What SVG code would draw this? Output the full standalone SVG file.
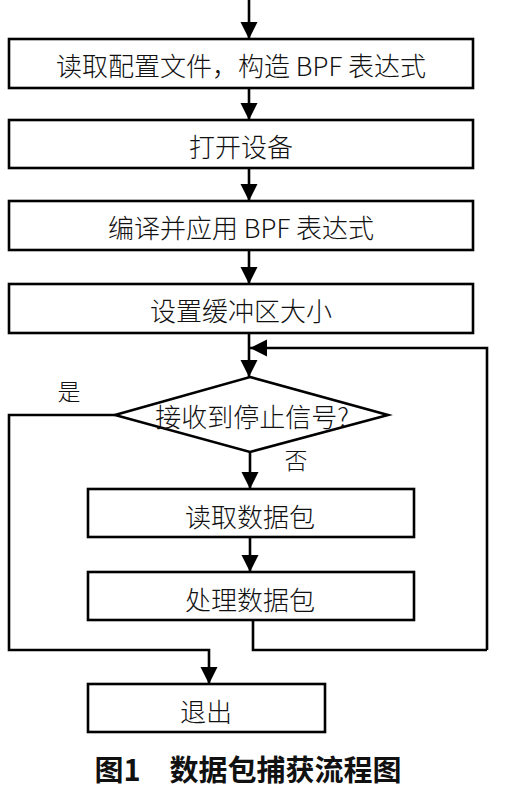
<svg xmlns="http://www.w3.org/2000/svg" width="506" height="800" viewBox="0 0 506 800">
<defs>
<marker id="ah" markerUnits="userSpaceOnUse" markerWidth="18" markerHeight="18" refX="17" refY="8.5" orient="auto">
<path d="M0,0 L17,8.5 L0,17 Z" fill="#000"/>
</marker>
<style>
.box{fill:#fff;stroke:#000;stroke-width:2.6}
.ln{fill:none;stroke:#000;stroke-width:2.6}
.t{font-family:"Noto Sans CJK SC","Liberation Sans",sans-serif;font-size:26px;font-weight:300;fill:#111;text-anchor:middle;dominant-baseline:central}
.l{font-family:"Noto Sans CJK SC",sans-serif;font-size:23px;font-weight:300;fill:#111;text-anchor:middle;dominant-baseline:central}
.cap{font-family:"Noto Sans CJK SC",sans-serif;font-size:29px;font-weight:bold;fill:#111;text-anchor:middle;dominant-baseline:central}
</style>
</defs>
<rect width="506" height="800" fill="#fff"/>
<g id="connectors">
<path class="ln" d="M249,0 V39" marker-end="url(#ah)"/>
<path class="ln" d="M249,88 V120" marker-end="url(#ah)"/>
<path class="ln" d="M249,168 V201" marker-end="url(#ah)"/>
<path class="ln" d="M249,250 V284" marker-end="url(#ah)"/>
<path class="ln" d="M249,333 V377" marker-end="url(#ah)"/>
<path class="ln" d="M487,650 V348 H250" marker-end="url(#ah)"/>
<path class="ln" d="M250,452 V489" marker-end="url(#ah)"/>
<path class="ln" d="M250,537 V572" marker-end="url(#ah)"/>
<path class="ln" d="M253,620 V650 H487"/>
<path class="ln" d="M115,415 H9 V650 H209 V684" marker-end="url(#ah)"/>
</g>
<g id="n1"><rect class="box" x="9" y="39" width="464" height="49"/><text class="t" x="241" y="64">读取配置文件，构造 BPF 表达式</text></g>
<g id="n2"><rect class="box" x="9" y="120" width="464" height="48"/><text class="t" x="241" y="145">打开设备</text></g>
<g id="n3"><rect class="box" x="9" y="201" width="464" height="49"/><text class="t" x="241" y="226">编译并应用 BPF 表达式</text></g>
<g id="n4"><rect class="box" x="9" y="284" width="464" height="49"/><text class="t" x="241" y="309">设置缓冲区大小</text></g>
<g id="n5"><path class="box" d="M250,377 L388,415 L250,452 L115,415 Z"/><text class="t" x="252" y="415">接收到停止信号?</text></g>
<g id="lbl-yes"><text class="l" x="69" y="390">是</text></g>
<g id="lbl-no"><text class="l" x="296" y="459">否</text></g>
<g id="n6"><rect class="box" x="88" y="489" width="326" height="48"/><text class="t" x="250" y="515">读取数据包</text></g>
<g id="n7"><rect class="box" x="88" y="572" width="326" height="48"/><text class="t" x="250" y="598">处理数据包</text></g>
<g id="n8"><rect class="box" x="88" y="684" width="237" height="48"/><text class="t" x="206" y="710">退出</text></g>
<g id="caption"><text class="cap" x="248" y="768" xml:space="preserve">图1　数据包捕获流程图</text></g>
</svg>
